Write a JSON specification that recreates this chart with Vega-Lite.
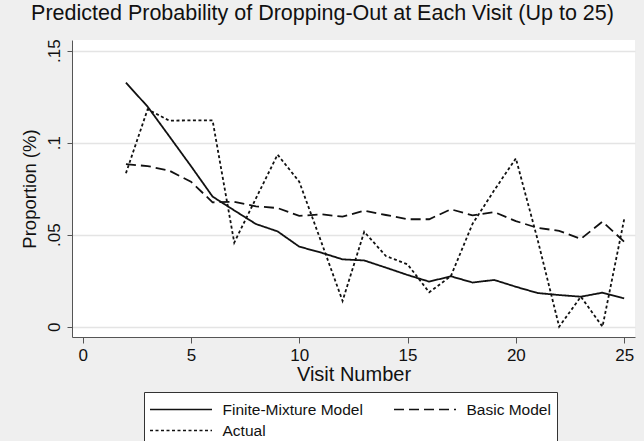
{
  "$schema": "https://vega.github.io/schema/vega-lite/v6.json",
  "autosize": "none",
  "width": 563,
  "height": 297,
  "padding": {"left": 72, "top": 40, "right": 9, "bottom": 104},
  "background": "#efefef",
  "config": {
    "view": {"fill": "white", "stroke": null},
    "font": "Liberation Sans"
  },
  "title": {
    "text": "Predicted Probability of Dropping-Out at Each Visit (Up to 25)",
    "font": "Liberation Sans",
    "fontSize": 21.5,
    "fontWeight": "normal",
    "color": "#111111",
    "anchor": "middle",
    "dx": -31,
    "offset": 14
  },
  "data": {
    "values": [
      {"visit": 2, "series": "Finite-Mixture Model", "value": 0.1326},
      {"visit": 3, "series": "Finite-Mixture Model", "value": 0.1196},
      {"visit": 4, "series": "Finite-Mixture Model", "value": 0.1035},
      {"visit": 5, "series": "Finite-Mixture Model", "value": 0.0873},
      {"visit": 6, "series": "Finite-Mixture Model", "value": 0.0707},
      {"visit": 7, "series": "Finite-Mixture Model", "value": 0.0632},
      {"visit": 8, "series": "Finite-Mixture Model", "value": 0.0558},
      {"visit": 9, "series": "Finite-Mixture Model", "value": 0.0518},
      {"visit": 10, "series": "Finite-Mixture Model", "value": 0.0435},
      {"visit": 11, "series": "Finite-Mixture Model", "value": 0.0403},
      {"visit": 12, "series": "Finite-Mixture Model", "value": 0.0366},
      {"visit": 13, "series": "Finite-Mixture Model", "value": 0.036},
      {"visit": 14, "series": "Finite-Mixture Model", "value": 0.0321},
      {"visit": 15, "series": "Finite-Mixture Model", "value": 0.0281},
      {"visit": 16, "series": "Finite-Mixture Model", "value": 0.0245},
      {"visit": 17, "series": "Finite-Mixture Model", "value": 0.0274},
      {"visit": 18, "series": "Finite-Mixture Model", "value": 0.024},
      {"visit": 19, "series": "Finite-Mixture Model", "value": 0.0254},
      {"visit": 20, "series": "Finite-Mixture Model", "value": 0.0217},
      {"visit": 21, "series": "Finite-Mixture Model", "value": 0.0183},
      {"visit": 22, "series": "Finite-Mixture Model", "value": 0.0172},
      {"visit": 23, "series": "Finite-Mixture Model", "value": 0.0163},
      {"visit": 24, "series": "Finite-Mixture Model", "value": 0.0185},
      {"visit": 25, "series": "Finite-Mixture Model", "value": 0.0154},
      {"visit": 2, "series": "Basic Model", "value": 0.0883},
      {"visit": 3, "series": "Basic Model", "value": 0.0873},
      {"visit": 4, "series": "Basic Model", "value": 0.0848},
      {"visit": 5, "series": "Basic Model", "value": 0.0788},
      {"visit": 6, "series": "Basic Model", "value": 0.0676},
      {"visit": 7, "series": "Basic Model", "value": 0.0679},
      {"visit": 8, "series": "Basic Model", "value": 0.0654},
      {"visit": 9, "series": "Basic Model", "value": 0.0645},
      {"visit": 10, "series": "Basic Model", "value": 0.0602},
      {"visit": 11, "series": "Basic Model", "value": 0.0611},
      {"visit": 12, "series": "Basic Model", "value": 0.0598},
      {"visit": 13, "series": "Basic Model", "value": 0.0631},
      {"visit": 14, "series": "Basic Model", "value": 0.0607},
      {"visit": 15, "series": "Basic Model", "value": 0.0584},
      {"visit": 16, "series": "Basic Model", "value": 0.0584},
      {"visit": 17, "series": "Basic Model", "value": 0.0638},
      {"visit": 18, "series": "Basic Model", "value": 0.0605},
      {"visit": 19, "series": "Basic Model", "value": 0.0623},
      {"visit": 20, "series": "Basic Model", "value": 0.0574},
      {"visit": 21, "series": "Basic Model", "value": 0.0537},
      {"visit": 22, "series": "Basic Model", "value": 0.0521},
      {"visit": 23, "series": "Basic Model", "value": 0.0477},
      {"visit": 24, "series": "Basic Model", "value": 0.0571},
      {"visit": 25, "series": "Basic Model", "value": 0.0462},
      {"visit": 2, "series": "Actual", "value": 0.0834},
      {"visit": 3, "series": "Actual", "value": 0.1181},
      {"visit": 4, "series": "Actual", "value": 0.112},
      {"visit": 5, "series": "Actual", "value": 0.1121},
      {"visit": 6, "series": "Actual", "value": 0.1121},
      {"visit": 7, "series": "Actual", "value": 0.0457},
      {"visit": 8, "series": "Actual", "value": 0.0697},
      {"visit": 9, "series": "Actual", "value": 0.0935},
      {"visit": 10, "series": "Actual", "value": 0.0788},
      {"visit": 11, "series": "Actual", "value": 0.0466},
      {"visit": 12, "series": "Actual", "value": 0.014},
      {"visit": 13, "series": "Actual", "value": 0.0516},
      {"visit": 14, "series": "Actual", "value": 0.0384},
      {"visit": 15, "series": "Actual", "value": 0.0339},
      {"visit": 16, "series": "Actual", "value": 0.0187},
      {"visit": 17, "series": "Actual", "value": 0.0275},
      {"visit": 18, "series": "Actual", "value": 0.0559},
      {"visit": 19, "series": "Actual", "value": 0.0741},
      {"visit": 20, "series": "Actual", "value": 0.0915},
      {"visit": 21, "series": "Actual", "value": 0.0475},
      {"visit": 22, "series": "Actual", "value": 0.0},
      {"visit": 23, "series": "Actual", "value": 0.0163},
      {"visit": 24, "series": "Actual", "value": 0.0},
      {"visit": 25, "series": "Actual", "value": 0.0584}
    ]
  },
  "mark": {"type": "line", "color": "#111111", "strokeWidth": 1.8},
  "encoding": {
    "x": {
      "field": "visit",
      "type": "quantitative",
      "scale": {"domain": [-0.49, 25.5], "nice": false, "zero": false},
      "axis": {
        "title": "Visit Number",
        "titleFontSize": 20,
        "titleFontWeight": "normal",
        "titleColor": "#111111",
        "titlePadding": 1,
        "values": [0, 5, 10, 15, 20, 25],
        "labelFontSize": 17,
        "labelColor": "#111111",
        "labelPadding": 4,
        "tickSize": 6,
        "tickColor": "#555555",
        "domainColor": "#555555",
        "grid": false
      }
    },
    "y": {
      "field": "value",
      "type": "quantitative",
      "scale": {"domain": [-0.0056, 0.1558], "nice": false, "zero": false},
      "axis": {
        "title": "Proportion (%)",
        "titleFontSize": 18.5,
        "titleFontWeight": "normal",
        "titleColor": "#111111",
        "titlePadding": 6,
        "values": [0, 0.05, 0.1, 0.15],
        "labelExpr": "datum.value == 0 ? '0' : replace(format(datum.value, '.2~f'), '0.', '.')",
        "labelAngle": -90,
        "labelAlign": "center",
        "labelBaseline": "bottom",
        "labelFontSize": 17,
        "labelColor": "#111111",
        "labelPadding": 4,
        "tickSize": 5,
        "tickColor": "#555555",
        "domainColor": "#555555",
        "grid": true,
        "gridColor": "#e4e4e4",
        "gridWidth": 1.5
      }
    },
    "strokeDash": {
      "field": "series",
      "type": "nominal",
      "scale": {
        "domain": ["Finite-Mixture Model", "Basic Model", "Actual"],
        "range": [[1, 0], [10, 5], [3, 2.5]]
      },
      "legend": {
        "title": null,
        "orient": "none",
        "legendX": 72,
        "legendY": 352,
        "direction": "horizontal",
        "columns": 2,
        "symbolType": "M-3,0H3",
        "symbolSize": 427,
        "symbolOffset": 19.5,
        "symbolStrokeColor": "#111111",
        "symbolStrokeWidth": 1.6,
        "labelFontSize": 15.5,
        "labelColor": "#111111",
        "labelOffset": 30,
        "columnPadding": 27,
        "rowPadding": 1,
        "padding": 6,
        "fillColor": "white",
        "strokeColor": "#333333",
        "labelLimit": 300
      }
    }
  }
}
